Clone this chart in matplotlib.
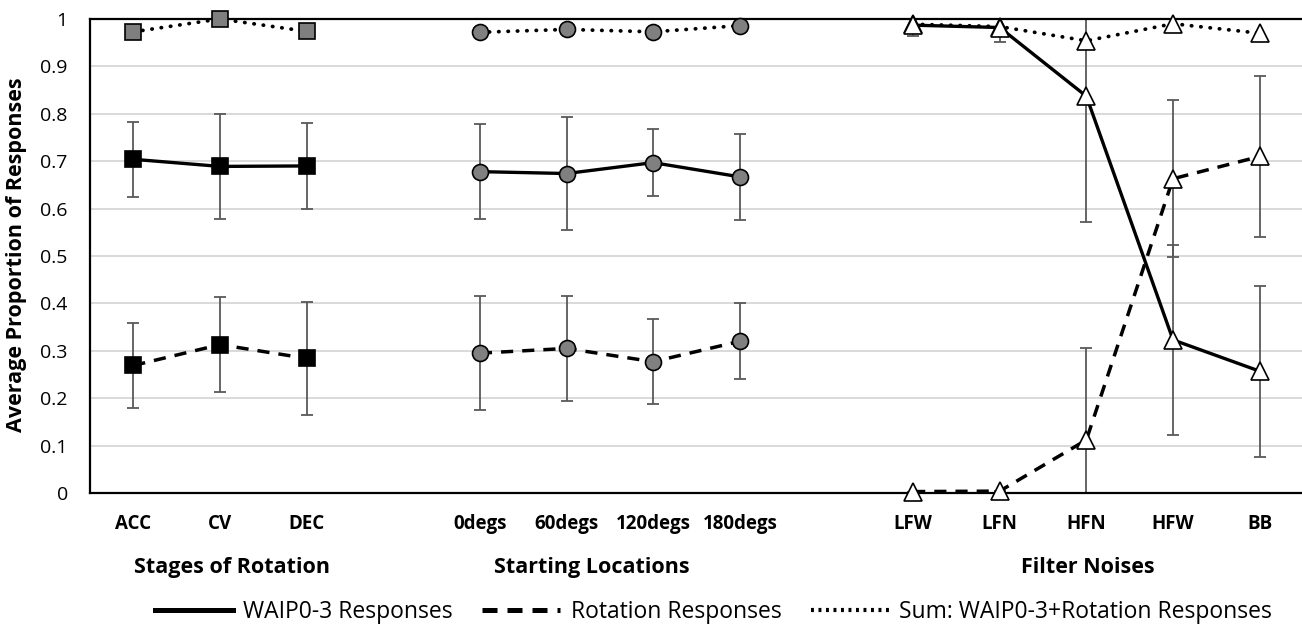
import matplotlib
matplotlib.use("Agg")
import matplotlib.pyplot as plt
import matplotlib.transforms as mtransforms
from matplotlib.lines import Line2D

plt.rcParams['font.family'] = ['Open Sans', 'DejaVu Sans']

# categories, one slot left empty between groups
stage_labels = ["ACC", "CV", "DEC"]
start_labels = ["0degs", "60degs", "120degs", "180degs"]
filter_labels = ["LFW", "LFN", "HFN", "HFW", "BB"]
stage_x = [0, 1, 2]
start_x = [4, 5, 6, 7]
filter_x = [9, 10, 11, 12, 13]
group_names = ["Stages of Rotation", "Starting Locations", "Filter Noises"]
group_label_x = [1.14, 5.29, 11.02]

# Stages of Rotation
stage_waip = [0.704, 0.689, 0.690]
stage_waip_sd = [0.079, 0.111, 0.090]
stage_rot = [0.269, 0.313, 0.284]
stage_rot_sd = [0.090, 0.100, 0.119]
stage_sum = [0.973, 1.000, 0.974]

# Starting Locations
start_waip = [0.678, 0.674, 0.697, 0.667]
start_waip_sd = [0.100, 0.119, 0.070, 0.090]
start_rot = [0.295, 0.305, 0.277, 0.320]
start_rot_sd = [0.120, 0.110, 0.090, 0.080]
start_sum = [0.972, 0.978, 0.973, 0.986]

# Filter Noises
filter_waip = [0.987, 0.982, 0.837, 0.323, 0.257]
filter_waip_sd = [0.022, 0.030, 0.265, 0.200, 0.180]
filter_rot = [0.003, 0.004, 0.112, 0.663, 0.710]
filter_rot_sd = [0.0, 0.0, 0.193, 0.166, 0.170]
filter_sum = [0.989, 0.984, 0.954, 0.990, 0.970]

fig = plt.figure(figsize=(13.02, 6.29), dpi=100)
ax = fig.add_axes([90 / 1302, 1 - 493 / 629, 1213 / 1302, 474 / 629])

err_color = "#595959"
solid = dict(color="black", lw=2.4, linestyle="-")
dashed = dict(color="black", lw=2.5, linestyle=(0, (3.5, 2.6)))
dotted = dict(color="black", lw=2.7, linestyle=(0, (0.1, 2.4)), dash_capstyle="round")

groups = [
    (stage_x, stage_waip, stage_waip_sd, stage_rot, stage_rot_sd, stage_sum,
     "s", 11.5, "black", "#7f7f7f"),
    (start_x, start_waip, start_waip_sd, start_rot, start_rot_sd, start_sum,
     "o", 11.5, "#808080", "#808080"),
    (filter_x, filter_waip, filter_waip_sd, filter_rot, filter_rot_sd, filter_sum,
     "^", 12.5, "white", "white"),
]

for xs, waip, waip_sd, rot, rot_sd, tot, mk, ms, fc, fc_sum in groups:
    ax.errorbar(xs, waip, yerr=waip_sd, fmt="none", ecolor=err_color,
                elinewidth=1.3, capsize=4, capthick=1.3, zorder=2)
    ax.errorbar(xs, rot, yerr=rot_sd, fmt="none", ecolor=err_color,
                elinewidth=1.3, capsize=4, capthick=1.3, zorder=2)
    ax.plot(xs, tot, marker=mk, ms=ms, mfc=fc_sum, mec="black", mew=1.2,
            zorder=3, clip_on=False, **dotted)
    ax.plot(xs, rot, marker=mk, ms=ms, mfc=fc, mec="black", mew=1.2,
            zorder=4, clip_on=False, **dashed)
    ax.plot(xs, waip, marker=mk, ms=ms, mfc=fc, mec="black", mew=1.2,
            zorder=5, clip_on=False, **solid)

ax.set_xlim(-0.5, 13.5)
ax.set_ylim(0, 1)
ax.set_yticks([0, 0.1, 0.2, 0.3, 0.4, 0.5, 0.6, 0.7, 0.8, 0.9, 1])
ax.set_yticklabels(["0", "0.1", "0.2", "0.3", "0.4", "0.5", "0.6", "0.7", "0.8", "0.9", "1"],
                   fontsize=14)
ax.set_xticks(stage_x + start_x + filter_x)
ax.set_xticklabels(stage_labels + start_labels + filter_labels,
                   fontsize=13.5, fontweight="bold")
ax.tick_params(axis="x", length=0, pad=15)
ax.tick_params(axis="y", length=0, pad=16)

for y in [0.1, 0.2, 0.3, 0.4, 0.5, 0.6, 0.7, 0.8, 0.9]:
    ax.axhline(y, color="#d9d9d9", lw=1.4, zorder=1)

for side in ["left", "bottom", "top"]:
    ax.spines[side].set_color("black")
    ax.spines[side].set_linewidth(1.6)
ax.spines["right"].set_visible(False)

trans = mtransforms.blended_transform_factory(ax.transData, ax.transAxes)
for gx, name in zip(group_label_x, group_names):
    ax.text(gx, -0.158, name, transform=trans, ha="center", va="center",
            fontsize=15.5, fontweight="bold")

fig.text(17 / 1302, 1 - 255 / 629, "Average Proportion of Responses", rotation=90,
         ha="center", va="center", fontsize=15.5, fontweight="bold")

# legend keys are drawn a bit heavier, as in the original
handles = [
    Line2D([], [], color="black", lw=3.6, linestyle="-"),
    Line2D([], [], color="black", lw=3.6, linestyle=(0, (3.0, 2.0))),
    Line2D([], [], color="black", lw=3.0, linestyle=(0, (0.7, 1.1))),
]
fig.legend(handles, ["WAIP0-3 Responses", "Rotation Responses",
                     "Sum: WAIP0-3+Rotation Responses"],
           loc="center", bbox_to_anchor=(0.548, 0.027), ncol=3, frameon=False,
           fontsize=16.5, handlelength=3.4, handletextpad=0.45, columnspacing=1.3)

fig.savefig("out.png", dpi=100)
